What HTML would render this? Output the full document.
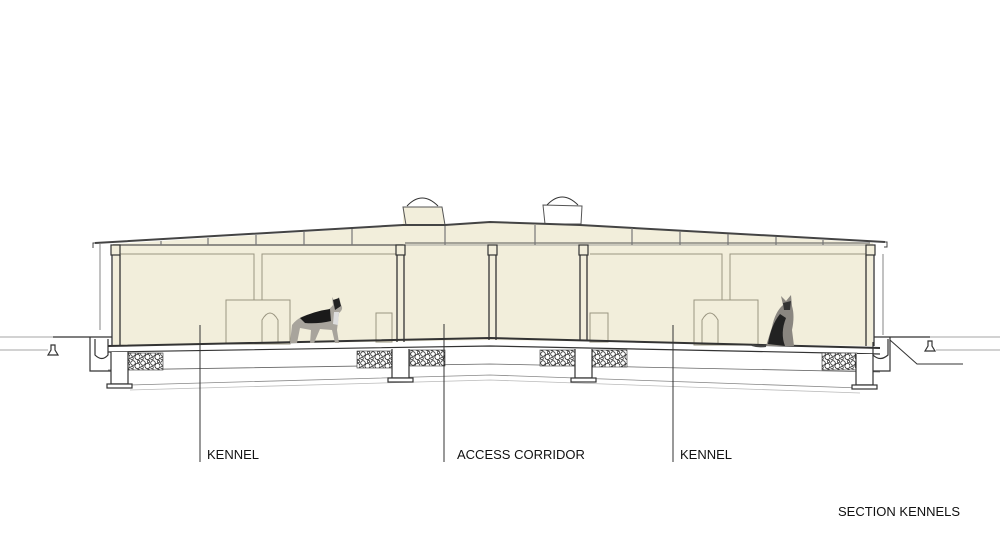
<!DOCTYPE html>
<html><head><meta charset="utf-8"><style>
html,body{margin:0;padding:0;background:#fff;}
svg{display:block}
text{font-family:"Liberation Sans",sans-serif;font-size:13px;fill:#111;}
</style></head><body>
<svg width="1000" height="534" viewBox="0 0 1000 534" xmlns="http://www.w3.org/2000/svg">
<defs>
<pattern id="grav" width="10" height="9" patternUnits="userSpaceOnUse">
<rect width="10" height="9" fill="#fff"/>
<circle cx="3" cy="3" r="2.3" fill="none" stroke="#222" stroke-width="0.8"/>
<circle cx="7.5" cy="6" r="2.6" fill="none" stroke="#222" stroke-width="0.8"/>
<circle cx="2" cy="7.5" r="1.3" fill="none" stroke="#222" stroke-width="0.7"/>
<circle cx="8.5" cy="1.5" r="1.2" fill="none" stroke="#222" stroke-width="0.7"/>
</pattern>
</defs>
<polygon points="113,244 403,226 442,225 490,222 580,225 873,243 873,346 490,340 113,346" fill="#f2eedb"/>
<rect x="403" y="207" width="39" height="20" fill="#f2eedb"/>
<polygon points="403,207 442,207 445,225 406,225" fill="#f2eedb" stroke="#555" stroke-width="1"/>
<path d="M407,206 Q422,190 438,206" fill="none" stroke="#333" stroke-width="1"/>
<polygon points="543,205 582,206 581,224 545,224" fill="#fff" stroke="#555" stroke-width="1"/>
<path d="M547,205 Q562,189 578,205" fill="none" stroke="#333" stroke-width="1"/>
<polyline points="95,243 403,225 445,225 490,222 580,225 885,242" fill="none" stroke="#444" stroke-width="2"/>
<path d="M95,243 l-2,0 l0,5" fill="none" stroke="#444" stroke-width="1"/>
<path d="M885,242 l2,0 l0,5 l-3,0" fill="none" stroke="#444" stroke-width="1"/>
<line x1="113" y1="245" x2="403" y2="245" stroke="#555" stroke-width="1.2"/>
<line x1="405" y1="243" x2="870" y2="243" stroke="#555" stroke-width="1"/>
<line x1="403" y1="245" x2="870" y2="245" stroke="#888" stroke-width="0.8"/>
<g stroke="#777" stroke-width="1.2">
<line x1="161" y1="241" x2="161" y2="245"/><line x1="208" y1="238" x2="208" y2="245"/><line x1="256" y1="235" x2="256" y2="245"/><line x1="304" y1="232" x2="304" y2="245"/><line x1="352" y1="229" x2="352" y2="245"/>
<line x1="445" y1="226" x2="445" y2="245"/><line x1="535" y1="225" x2="535" y2="245"/>
<line x1="632" y1="228" x2="632" y2="245"/><line x1="680" y1="231" x2="680" y2="245"/><line x1="728" y1="234" x2="728" y2="245"/><line x1="776" y1="237" x2="776" y2="245"/><line x1="823" y1="240" x2="823" y2="245"/>
</g>
<g fill="none" stroke="#9a9580" stroke-width="1">
<path d="M120,254 H254 V300"/><path d="M262,300 V254 H396"/>
<path d="M590,254 H722 V300"/><path d="M730,300 V254 H866"/>
<rect x="226" y="300" width="64" height="44"/><path d="M262,344 V320 Q270,306 278,320 V344"/>
<rect x="376" y="313" width="16" height="29"/>
<rect x="694" y="300" width="64" height="45"/><path d="M702,345 V320 Q710,306 718,320 V345"/>
<rect x="590" y="313" width="18" height="29"/>
</g>
<g fill="#f2eedb" stroke="#333" stroke-width="1.2">
<rect x="111" y="245" width="9" height="10"/><rect x="866" y="245" width="9" height="10"/>
<rect x="396" y="245" width="9" height="10"/><rect x="488" y="245" width="9" height="10"/><rect x="579" y="245" width="9" height="10"/>
</g>
<g stroke="#333" stroke-width="1.3">
<line x1="397" y1="255" x2="397" y2="342"/><line x1="404" y1="255" x2="404" y2="342"/>
<line x1="489" y1="255" x2="489" y2="340"/><line x1="496" y1="255" x2="496" y2="340"/>
<line x1="580" y1="255" x2="580" y2="341"/><line x1="587" y1="255" x2="587" y2="341"/>
<line x1="112" y1="255" x2="112" y2="346"/><line x1="120" y1="255" x2="120" y2="346"/>
<line x1="866" y1="255" x2="866" y2="346"/><line x1="874" y1="255" x2="874" y2="346"/>
</g>
<polyline points="108,346 490,338 880,348" fill="none" stroke="#333" stroke-width="2"/>
<polyline points="108,352 490,346 880,354" fill="none" stroke="#333" stroke-width="1.2"/>
<polyline points="108,370 490,364 880,372" fill="none" stroke="#666" stroke-width="0.8"/>
<polyline points="130,385 490,375 860,388" fill="none" stroke="#888" stroke-width="0.8"/>
<polyline points="130,390 490,380 860,393" fill="none" stroke="#bbb" stroke-width="0.8"/>
<g stroke="#333" stroke-width="0.6">
<rect x="128" y="353" width="35" height="17" fill="url(#grav)"/>
<rect x="357" y="351" width="35" height="17" fill="url(#grav)"/>
<rect x="410" y="350" width="35" height="16" fill="url(#grav)"/>
<rect x="540" y="350" width="35" height="16" fill="url(#grav)"/>
<rect x="592" y="350" width="35" height="17" fill="url(#grav)"/>
<rect x="822" y="353" width="35" height="17" fill="url(#grav)"/>
</g>
<g fill="#fff" stroke="#333" stroke-width="1.2">
<path d="M111,352 V384 H128 V352"/><rect x="107" y="384" width="25" height="4"/>
<path d="M392,349 V378 H409 V349"/><rect x="388" y="378" width="25" height="4"/>
<path d="M575,349 V378 H592 V349"/><rect x="571" y="378" width="25" height="4"/>
<path d="M856,354 V385 H873 V354"/><rect x="852" y="385" width="25" height="4"/>
</g>
<g fill="none" stroke="#333" stroke-width="1.2">
<line x1="0" y1="337" x2="53" y2="337" stroke="#888" stroke-width="0.8"/>
<line x1="0" y1="350" x2="48" y2="350" stroke="#888" stroke-width="0.8"/>
<path d="M48,355 l3,-5 v-5 h4 v5 l3,5 z"/><path d="M53,337 H112"/>
<path d="M90,337 V371 H111"/><path d="M95,339 V355 Q102,362 108,355 V339"/>
<line x1="100" y1="244" x2="100" y2="330" stroke="#666" stroke-width="0.8"/>
</g>
<g fill="none" stroke="#333" stroke-width="1.2">
<path d="M874,337 H930"/><path d="M890,337 V371 H873"/><path d="M873,342 V355 Q880,362 888,355 V339"/>
<path d="M925,351 l3,-5 v-5 h4 v5 l3,5 z"/>
<line x1="936" y1="350" x2="1000" y2="350" stroke="#888" stroke-width="0.8"/>
<line x1="930" y1="337" x2="1000" y2="337" stroke="#888" stroke-width="0.8"/>
<path d="M890,340 L917,364 H963" stroke-width="1"/>
<line x1="883" y1="254" x2="883" y2="335" stroke="#666" stroke-width="0.8"/>
</g>
<g>
<path d="M290,343 L292,325 Q300,314 318,313 Q328,312 333,305 L332,297 L335,302 L339,297 L341,305 Q344,309 339,313 L337,330 L339,343 L335,343 L332,330 L320,329 L314,343 L310,343 L311,330 L300,328 L297,343 L294,343 Z" fill="#a8a49c"/>
<path d="M300,318 Q315,311 330,309 L331,321 Q318,324 305,323 Z" fill="#1a1a1a"/>
<path d="M333,300 L339,298 L341,306 L335,310 Z" fill="#222"/>
<path d="M334,312 L339,312 L338,325 L333,324 Z" fill="#ddd"/>
<path d="M766,346 L772,327 Q775,312 783,305 L781,296 L786,301 L791,295 L792,306 Q795,316 792,330 L794,346 Z" fill="#8a8680"/>
<path d="M768,344 Q771,325 780,314 L786,318 Q780,333 785,346 Z" fill="#222"/>
<path d="M783,303 L791,301 L790,310 L784,310 Z" fill="#333"/>
<path d="M766,346 Q758,347 752,345" stroke="#444" stroke-width="2" fill="none"/>
</g>
<g stroke="#333" stroke-width="1">
<line x1="200" y1="325" x2="200" y2="462"/>
<line x1="444" y1="324" x2="444" y2="462"/>
<line x1="673" y1="325" x2="673" y2="462"/>
</g>
<text x="207" y="459">KENNEL</text>
<text x="457" y="459">ACCESS CORRIDOR</text>
<text x="680" y="459">KENNEL</text>
<text x="838" y="516">SECTION KENNELS</text>
</svg>
</body></html>
